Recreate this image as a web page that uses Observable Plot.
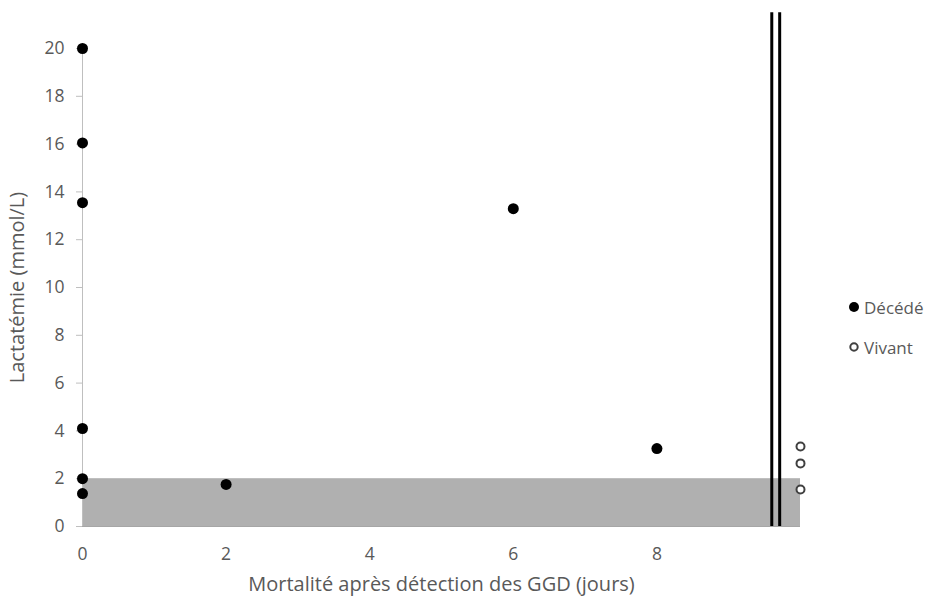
<!DOCTYPE html>
<html><head><meta charset="utf-8">
<script src="https://cdn.jsdelivr.net/npm/d3@7"></script>
<script src="https://cdn.jsdelivr.net/npm/@observablehq/plot@0.6"></script>
<style>
body{margin:0;background:#fff;font-family:"Open Sans",sans-serif;}
#wrap{position:relative;width:932px;height:598px;}
#legend{position:absolute;left:848px;top:295px;font:17px "Open Sans",sans-serif;color:#595959;white-space:nowrap;}
#legend div{display:flex;align-items:center;height:24px;margin-bottom:16px;}
#legend svg{margin-right:3px;}
</style></head>
<body><div id="wrap"><div id="legend"></div></div>
<script>
const deceasedX = [0, 0, 0, 0, 0, 0, 2, 6, 8];
const deceasedY = [20, 16.05, 13.55, 4.1, 2.0, 1.38, 1.76, 13.3, 3.26];
const aliveX = [10, 10, 10];
const aliveY = [3.35, 2.64, 1.55];
const band = {x1: 0, x2: 10, y1: 0, y2: 2};
const cutoffs = [9.6, 9.71];
const xTicks = [0, 2, 4, 6, 8];
const yTicks = [0, 2, 4, 6, 8, 10, 12, 14, 16, 18, 20];
const seriesNames = ["Décédé", "Vivant"];

const dead = deceasedX.map((x, i) => ({x, y: deceasedY[i]}));
const alive = aliveX.map((x, i) => ({x, y: aliveY[i]}));

const chart = Plot.plot({
  width: 932, height: 598,
  marginLeft: 82, marginRight: 132, marginTop: 48, marginBottom: 72,
  style: {fontFamily: "Open Sans, sans-serif", color: "#595959", background: "#fff"},
  x: {domain: [0, 10]},
  y: {domain: [0, 20]},
  marks: [
    Plot.rect([band], {x1: "x1", x2: "x2", y1: "y1", y2: "y2", fill: "#b0b0b0"}),
    Plot.ruleY([0], {stroke: "#a6a6a6", strokeWidth: 1}),
    Plot.ruleX([0], {y1: 0, y2: 20, stroke: "#bfbfbf", strokeWidth: 1}),
    Plot.ruleX(cutoffs, {y1: 0, y2: 21.5, stroke: "#000", strokeWidth: 3, clip: false}),
    Plot.axisX({ticks: xTicks, tickSize: 0, tickPadding: 21, fontSize: 17, color: "#595959", label: "Mortalité après détection des GGD (jours)", labelAnchor: "center", labelArrow: "none", labelOffset: 64}),
    Plot.axisY({ticks: yTicks, tickSize: 6, tickPadding: 12, stroke: "#bfbfbf", fontSize: 17, color: "#595959", label: "Lactatémie (mmol/L)", labelAnchor: "center", labelArrow: "none", labelOffset: 73}),
    Plot.dot(dead, {x: "x", y: "y", r: 5.5, fill: "#000", stroke: "none"}),
    Plot.dot(alive, {x: "x", y: "y", r: 4, fill: "#fff", stroke: "#404040", strokeWidth: 2})
  ]
});
document.getElementById("wrap").prepend(chart);
chart.querySelectorAll("g[aria-label='x-axis label'] text, g[aria-label='y-axis label'] text").forEach(t => t.style.fontSize = "20px");
chart.querySelectorAll("g[aria-label='x-axis tick label'] text, g[aria-label='y-axis tick label'] text").forEach(t => t.style.fontSize = "17.5px");

const leg = document.getElementById("legend");
seriesNames.forEach((name, i) => {
  const d = document.createElement("div");
  d.innerHTML = i === 0
    ? `<svg width="13" height="12"><circle cx="6" cy="6" r="5" fill="#000"/></svg>${name}`
    : `<svg width="13" height="12"><circle cx="6" cy="6" r="3.7" fill="#fff" stroke="#404040" stroke-width="2"/></svg>${name}`;
  leg.appendChild(d);
});
</script></body></html>
